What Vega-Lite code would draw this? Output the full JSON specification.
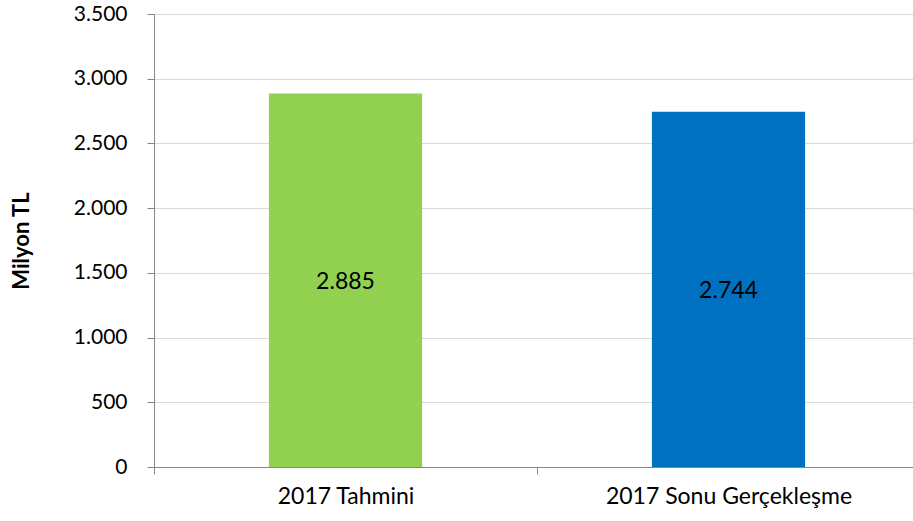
{
  "$schema": "https://vega.github.io/schema/vega-lite/v6.json",
  "autosize": {"type": "none"},
  "padding": {"left": 154, "top": 14, "right": 0, "bottom": 54},
  "width": 766,
  "height": 453,
  "background": "white",
  "config": {
    "font": "Lato",
    "view": {"stroke": null},
    "locale": {
      "number": {"decimal": ",", "thousands": ".", "grouping": [3], "currency": ["", " TL"]}
    }
  },
  "data": {
    "values": [
      {"kategori": "2017 Tahmini", "deger": 2885},
      {"kategori": "2017 Sonu Gerçekleşme", "deger": 2744}
    ]
  },
  "encoding": {
    "x": {
      "field": "kategori",
      "type": "nominal",
      "sort": null,
      "scale": {"paddingInner": 0, "paddingOuter": 0},
      "axis": {
        "title": null,
        "labelAngle": 0,
        "labelFont": "Lato",
        "labelFontSize": 23,
        "labelColor": "#000000",
        "labelPadding": 11,
        "labelLimit": 400,
        "domainColor": "#868686",
        "tickColor": "#868686",
        "tickBand": "extent",
        "tickSize": 7,
        "grid": false
      }
    }
  },
  "layer": [
    {
      "mark": {"type": "bar", "width": {"band": 0.4}},
      "encoding": {
        "y": {
          "field": "deger",
          "type": "quantitative",
          "scale": {"domain": [0, 3500], "nice": false},
          "axis": {
            "values": [0, 500, 1000, 1500, 2000, 2500, 3000, 3500],
            "format": ",d",
            "labelFont": "Lato",
            "labelFontSize": 21,
            "labelColor": "#000000",
            "labelPadding": 20,
            "tickColor": "#868686",
            "tickSize": 7,
            "domainColor": "#868686",
            "gridColor": "#D9D9D9",
            "title": "Milyon TL",
            "titleFont": "Lato",
            "titleFontSize": 22,
            "titleFontWeight": "bold",
            "titleColor": "#000000",
            "titlePadding": 40
          }
        },
        "color": {
          "field": "kategori",
          "type": "nominal",
          "scale": {"domain": ["2017 Tahmini", "2017 Sonu Gerçekleşme"], "range": ["#92D050", "#0070C0"]},
          "legend": null
        }
      }
    },
    {
      "mark": {"type": "text", "font": "Lato", "fontSize": 23, "color": "#000000", "baseline": "middle", "dy": 2},
      "encoding": {
        "y": {
          "field": "deger",
          "type": "quantitative",
          "scale": {"domain": [0, 7000], "nice": false},
          "axis": null
        },
        "text": {"field": "deger", "type": "quantitative", "format": ",d"}
      }
    }
  ],
  "resolve": {"scale": {"y": "independent"}}
}
